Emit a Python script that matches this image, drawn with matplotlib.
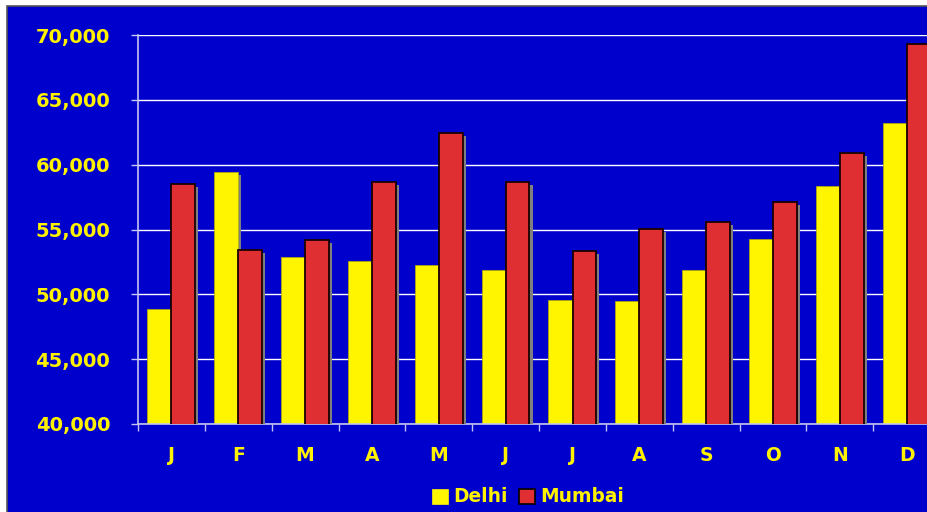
import matplotlib
matplotlib.use("Agg")
import matplotlib.pyplot as plt
import matplotlib.patheffects as pe
from matplotlib.patches import Rectangle
from matplotlib.ticker import FuncFormatter, MultipleLocator
import numpy as np

months = ["J", "F", "M", "A", "M", "J", "J", "A", "S", "O", "N", "D"]
delhi = [48850, 59450, 52850, 52600, 52280, 51870, 49540, 49480, 51870, 54300, 58380, 63190]
mumbai = [58480, 53450, 54180, 58670, 62410, 58690, 53310, 55020, 55570, 57120, 60870, 69330]
series_names = ["Delhi", "Mumbai"]

BLUE = "#0000CC"
YELLOW = "#FFF500"
RED = "#DF2F33"
AXIS_COL = "#C4C4F0"
TEXT_COL = "#FFF200"

plt.rcParams["font.family"] = ["DejaVu Sans"]
plt.rcParams["font.weight"] = "bold"

W, H = 927, 512
fig = plt.figure(figsize=(W / 100, H / 100), dpi=100, facecolor="white")

# blue chart panel with a thin grey frame on the top and left
fig.patches.append(Rectangle((7 / W, -0.02), 1.05, (H - 6) / H + 0.02,
                             transform=fig.transFigure, facecolor=BLUE,
                             edgecolor="#555555", linewidth=1.2, zorder=-5))

left, right = 138 / W, (138 + 12 * 66.85) / W
bottom, top = (H - 424) / H, (H - 35) / H
ax = fig.add_axes([left, bottom, right - left, top - bottom])
ax.set_facecolor("none")

x = np.arange(len(months))
bw = 0.355
shadow = [pe.SimplePatchShadow(offset=(2.3, -2.1), shadow_rgbFace="#7f7f7f", alpha=1.0),
          pe.Normal()]

ax.bar(x - bw - 0.005, delhi, width=bw, align="edge", color=YELLOW,
       edgecolor="#B8B000", linewidth=0.5, path_effects=shadow, zorder=2,
       label=series_names[0])
ax.bar(x, mumbai, width=bw, align="edge", color=RED,
       edgecolor="#1a0000", linewidth=1.3, path_effects=shadow, zorder=3,
       label=series_names[1])

ax.set_xlim(-0.5, len(months) - 0.5)
ax.set_ylim(40000, 70000)

ax.yaxis.set_major_locator(MultipleLocator(5000))
ax.yaxis.set_major_formatter(FuncFormatter(lambda v, p: f"{int(v):,}"))
ax.grid(axis="y", color="white", linewidth=1.0, zorder=1)
ax.set_axisbelow(True)

ax.set_xticks(x)
ax.set_xticklabels(months)
ax.set_xticks(np.arange(-0.5, len(months), 1.0), minor=True)
ax.tick_params(axis="x", which="major", length=0, pad=15.5,
               labelsize=13.5, labelcolor=TEXT_COL)
ax.tick_params(axis="x", which="minor", length=5, width=1, color=AXIS_COL,
               direction="out")
ax.tick_params(axis="y", length=5, width=1, color=AXIS_COL, pad=15,
               labelsize=14, labelcolor=TEXT_COL)
for lbl in ax.get_xticklabels() + ax.get_yticklabels():
    lbl.set_fontweight("bold")

for side in ("top", "right"):
    ax.spines[side].set_visible(False)
for side in ("left", "bottom"):
    ax.spines[side].set_color(AXIS_COL)
    ax.spines[side].set_linewidth(1.2)

handles = [Rectangle((0, 0), 1, 1, facecolor=YELLOW, edgecolor=YELLOW, linewidth=0.5),
           Rectangle((0, 0), 1, 1, facecolor=RED, edgecolor="black", linewidth=1.2)]
leg = fig.legend(handles, series_names, loc="center", ncol=2, frameon=False,
                 bbox_to_anchor=(528 / W, 1 - 497 / H),
                 prop={"size": 13.4, "weight": "bold"},
                 handlelength=0.86, handleheight=0.86, handletextpad=0.28,
                 columnspacing=0.6, borderpad=0, borderaxespad=0)
for t in leg.get_texts():
    t.set_color(TEXT_COL)

fig.savefig("out.png", dpi=100, facecolor="white")
